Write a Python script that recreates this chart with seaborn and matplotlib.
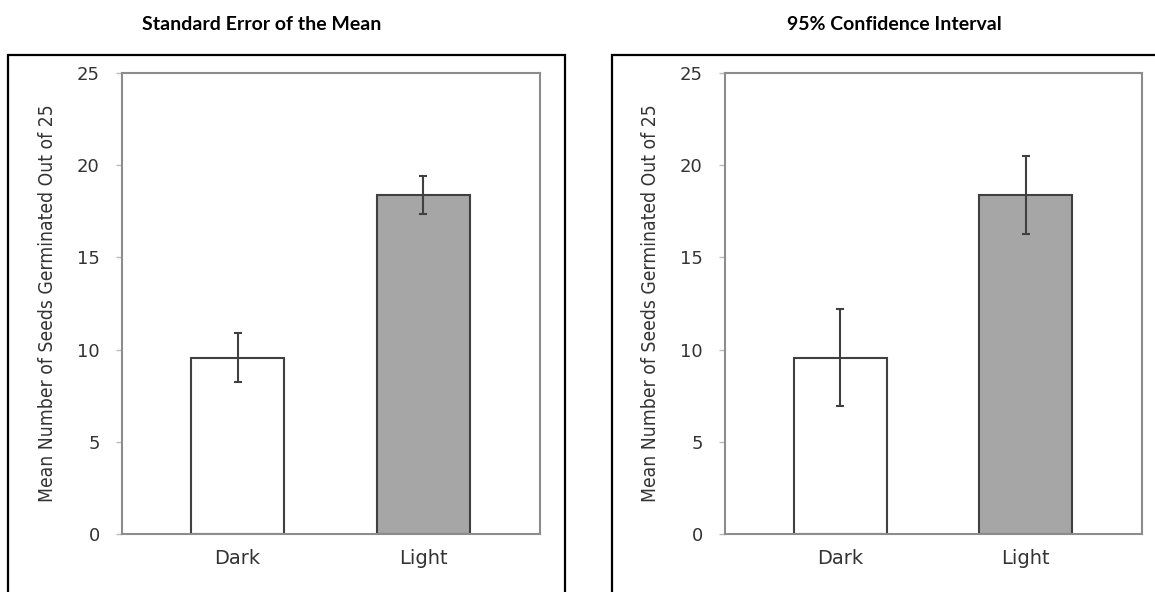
import numpy as np
import pandas as pd
import matplotlib
matplotlib.use("Agg")
import matplotlib.pyplot as plt
import seaborn as sns
from matplotlib import font_manager
from matplotlib.patches import Rectangle

# values
conditions = ["Dark", "Light"]
mean_germinated = [9.57, 18.38]
sem = [1.31, 1.03]
ci95 = [2.65, 2.1]
panel_titles = ["Standard Error of the Mean", "95% Confidence Interval"]
y_label = "Mean Number of Seeds Germinated Out of 25"
y_ticks = [0, 5, 10, 15, 20, 25]

bar_colors = ["white", "#a6a6a6"]
edge_dark = "#404040"
axis_grey = "#8c8c8c"
text_grey = "#333333"

sns.set_style("white")
plt.rcParams["font.family"] = ["DejaVu Sans"]

# the y label in the picture is a narrow face, look for one
narrow = [f for f in font_manager.fontManager.ttflist
          if ("Narrow" in f.name or "Condensed" in f.name or f.stretch == "condensed")
          and f.weight in (400, "normal", "regular") and f.style == "normal"]
if narrow:
    label_font = font_manager.FontProperties(fname=narrow[0].fname)
else:
    label_font = font_manager.FontProperties(family="DejaVu Sans")

W, H = 1155, 592
fig = plt.figure(figsize=(W / 100, H / 100), dpi=100)

df = pd.DataFrame({"Condition": conditions, "Mean": mean_germinated})

# pixel layout: (axes left, axes right, box left, box right, title centre)
panels = [
    (122, 540, 8, 565, 262, sem),
    (725, 1142, 612, 1200, 894, ci95),
]
ax_top, ax_bottom = 73, 534

labels = []
for (left, right, box_l, box_r, title_x, err), title in zip(panels, panel_titles):
    ax = fig.add_axes([left / W, 1 - ax_bottom / H, (right - left) / W, (ax_bottom - ax_top) / H])
    sns.barplot(data=df, x="Condition", y="Mean", hue="Condition", palette=bar_colors,
                legend=False, width=0.5, edgecolor=edge_dark, linewidth=1.5, ax=ax)
    ax.errorbar(x=np.arange(len(conditions)), y=mean_germinated, yerr=err, fmt="none",
                ecolor=edge_dark, elinewidth=1.5, capsize=3, capthick=1.5, zorder=5)

    ax.set_xlim(-0.623, 1.629)
    ax.set_ylim(0, 25)
    ax.set_yticks(y_ticks)
    ax.set_xlabel("")
    lab = ax.set_ylabel(y_label, fontproperties=label_font, fontsize=14,
                        color=text_grey, labelpad=14)
    labels.append(lab)
    for sp in ax.spines.values():
        sp.set_visible(True)
        sp.set_color(axis_grey)
        sp.set_linewidth(1.5)
    ax.tick_params(axis="y", left=True, length=4, width=1, color="#bbbbbb",
                   labelsize=13, labelcolor=text_grey, pad=12)
    ax.tick_params(axis="x", bottom=False, labelsize=14, labelcolor=text_grey, pad=7)

    # outer frame around each panel
    fig.patches.append(Rectangle((box_l / W, -0.1), (box_r - box_l) / W, 1.1 - 55 / H,
                                 transform=fig.transFigure, fill=False,
                                 edgecolor="black", linewidth=1.6, clip_on=False))
    fig.text(title_x / W, 1 - 25 / H, title, ha="center", va="center",
             family=["Lato", "DejaVu Sans"], fontsize=14, fontweight="bold", color="black")

# scale the y label so it runs about 400 px, as in the picture
fig.canvas.draw()
r = fig.canvas.get_renderer()
for lab in labels:
    h = lab.get_window_extent(r).height
    lab.set_fontsize(14 * 400 / h)

fig.savefig("out.png", dpi=100)
